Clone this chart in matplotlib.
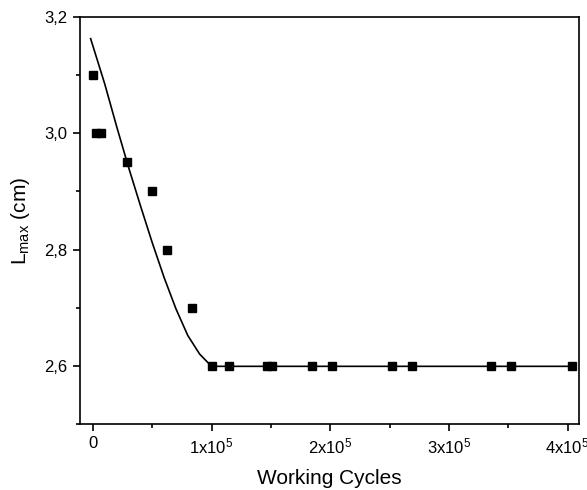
import matplotlib
matplotlib.use('Agg')
import matplotlib.pyplot as plt
from matplotlib.ticker import MultipleLocator

plt.rcParams['font.family'] = ['Liberation Sans', 'DejaVu Sans']
plt.rcParams['mathtext.fontset'] = 'custom'
plt.rcParams['mathtext.rm'] = 'Liberation Sans'
plt.rcParams['mathtext.it'] = 'Liberation Sans'

# measured points
cycles = [0, 2500, 6700, 29000, 50100, 62200, 83900,
          100400, 114800, 147000, 151000, 184800, 201700,
          251800, 268700, 335600, 352500, 403700]
lmax = [3.10, 3.00, 3.00, 2.95, 2.90, 2.80, 2.70,
        2.60, 2.60, 2.60, 2.60, 2.60, 2.60,
        2.60, 2.60, 2.60, 2.60, 2.60]

# fitted curve
fit_x = [-1900, 10000, 20000, 30000, 40000, 50000, 60000, 70000, 80000, 90000, 100000, 407000]
fit_y = [3.163, 3.085, 3.012, 2.942, 2.876, 2.812, 2.752, 2.698, 2.652, 2.620, 2.599, 2.599]

xticks = [0, 1e5, 2e5, 3e5, 4e5]
xticklabels = ['0', r'1x10$^5$', r'2x10$^5$', r'3x10$^5$', r'4x10$^5$']
yticks = [2.6, 2.8, 3.0, 3.2]
yticklabels = ['2,6', '2,8', '3,0', '3,2']

fig = plt.figure(figsize=(5.87, 4.90), dpi=100, facecolor='white')
ax = fig.add_axes([0.136, 0.135, 0.850, 0.830])

ax.plot(fit_x, fit_y, color='black', linewidth=1.2)
ax.plot(cycles, lmax, linestyle='none', marker='s', markersize=5.5, color='black')

ax.set_xlim(-11000, 409500)
ax.set_ylim(2.5, 3.2)

ax.set_xticks(xticks)
ax.set_xticklabels(xticklabels)
ax.xaxis.set_minor_locator(MultipleLocator(5e4))
ax.set_yticks(yticks)
ax.set_yticklabels(yticklabels)
ax.yaxis.set_minor_locator(MultipleLocator(0.1))

ax.tick_params(which='both', direction='out', top=False, right=False, width=1.2, labelsize=12)
ax.tick_params(which='major', length=5, pad=4)
ax.tick_params(which='minor', length=3)
for s in ax.spines.values():
    s.set_linewidth(1.2)

ax.set_xlabel('Working Cycles', fontsize=15, labelpad=9)
ax.set_ylabel(r'L$_{\mathrm{max}}$ (cm)', fontsize=15, labelpad=9)

plt.savefig('out.png', dpi=100)
